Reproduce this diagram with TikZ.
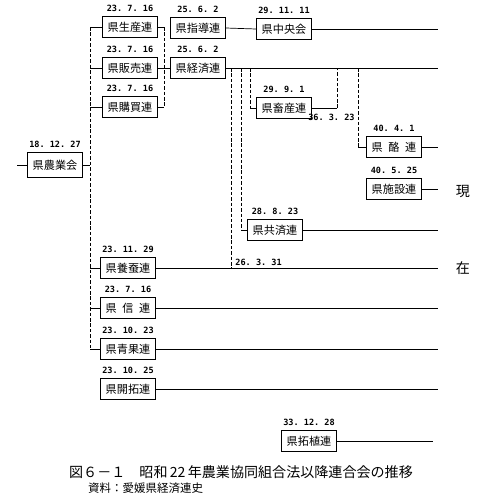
\documentclass[tikz,border=0pt]{standalone}
\usepackage{fontspec}
\setmainfont{Noto Sans CJK JP}
\setmonofont{DejaVu Sans Mono}
\usetikzlibrary{positioning}

\tikzset{
	unit/.style={draw, line width=0.7pt, minimum width=1.65cm, minimum height=0.62cm, inner sep=0pt, font=\fontsize{9.5}{11}\selectfont},
	datum/.style={font=\ttfamily\bfseries\fontsize{7.3}{9}\selectfont, inner sep=1pt},
	link/.style={line width=0.6pt},
	branch/.style={line width=0.6pt, dash pattern=on 3pt off 1.6pt}
}

\begin{document}
\begin{tikzpicture}[x=0.03cm, y=-0.03cm]
			\useasboundingbox (0,0) rectangle (480,498);

			\coordinate (start) at (17,165);
			\coordinate (sp) at (90,0);
			\coordinate (sq) at (164,0);
			\coordinate (b1) at (231,0);
			\coordinate (b2) at (241,0);
			\coordinate (b3) at (250,0);
			\coordinate (b4) at (337,0);
			\coordinate (b5) at (358,0);
			\coordinate (now) at (438,0);
			\coordinate (tend) at (433,441);

			\node[unit, minimum height=0.74cm] (nogyo) at (55,165) {県農業会};
			\node[unit] (seisan) at (130,27) {県生産連};
			\node[unit] (hanbai) at (130,68) {県販売連};
			\node[unit] (kobai) at (130,107) {県購買連};
			\node[unit] (shido) at (198,28) {県指導連};
			\node[unit] (keizai) at (198,68) {県経済連};
			\node[unit] (chuo) at (284,29) {県中央会};
			\node[unit] (chikusan) at (284,108) {県畜産連};
			\node[unit] (rakuren) at (394,147) {県\hspace{0.5em}酪\hspace{0.5em}連};
			\node[unit] (shisetsu) at (394,189) {県施設連};
			\node[unit] (kyosai) at (275,230) {県共済連};
			\node[unit] (yosan) at (128,268) {県養蚕連};
			\node[unit] (shinren) at (128,308) {県\hspace{0.5em}信\hspace{0.5em}連};
			\node[unit] (seika) at (128,349) {県青果連};
			\node[unit] (kaitaku) at (128,389) {県開拓連};
			\node[unit] (takushoku) at (309,441) {県拓植連};

			\foreach \n/\d in {
				nogyo/18. 12. 27,
				seisan/23. 7. 16,
				hanbai/23. 7. 16,
				kobai/23. 7. 16,
				shido/25. 6. 2,
				keizai/25. 6. 2,
				chuo/29. 11. 11,
				chikusan/29. 9. 1,
				rakuren/40. 4. 1,
				shisetsu/40. 5. 25,
				kyosai/28. 8. 23,
				yosan/23. 11. 29,
				shinren/23. 7. 16,
				seika/23. 10. 23,
				kaitaku/23. 10. 25,
				takushoku/33. 12. 28
			}{
				\node[datum, anchor=south] (d-\n) at ([yshift=2.5pt]\n.north) {\d};
			}

			\draw[link] (start) -- (nogyo.west);
			\draw[link] (nogyo.east) -- (nogyo.east -| sp);
			\draw[branch] (seisan.west -| sp) -- (seika.west -| sp);
			\foreach \n in {seisan, hanbai, kobai, yosan, shinren, seika}
				\draw[link] (\n.west -| sp) -- (\n.west);

			\draw[branch] (seisan.east -| sq) -- (kobai.east -| sq);
			\draw[link] (seisan.east) -- (seisan.east -| sq);
			\draw[link] (kobai.east) -- (kobai.east -| sq);
			\draw[link] (hanbai.east) -- (keizai.west);

			\draw[link] (shido.east) -- (chuo.west);
			\foreach \n in {chuo, keizai, rakuren, shisetsu, kyosai, yosan, shinren, seika, kaitaku}
				\draw[link] (\n.east) -- (\n.east -| now);
			\draw[link] (takushoku.east) -- (tend);

			\draw[branch] (keizai.east -| b1) -- (yosan.east -| b1);
			\draw[branch] (keizai.east -| b2) -- (kyosai.west -| b2);
			\draw[link] (kyosai.west -| b2) -- (kyosai.west);
			\draw[branch] (keizai.east -| b3) -- (chikusan.west -| b3);
			\draw[link] (chikusan.west -| b3) -- (chikusan.west);
			\draw[link] (chikusan.east) -- (chikusan.east -| b4);
			\draw[branch] (chikusan.east -| b4) -- (keizai.east -| b4);
			\draw[branch] (keizai.east -| b5) -- (rakuren.west -| b5);
			\draw[link] (rakuren.west -| b5) -- (rakuren.west);

			\node[datum, anchor=west] (end-keizai) at (234,262) {26. 3. 31};
			\node[datum, anchor=east] (end-chikusan) at (356,117) {36. 3. 23};

			\node[font=\fontsize{12}{14}\selectfont] (gen) at (463,192) {現};
			\node[font=\fontsize{12}{14}\selectfont] (zai) at (463,268) {在};

			\node[font=\fontsize{12}{14}\selectfont] (title) at (241,472) {図６－１\hspace{1em}昭和\,22\,年農業協同組合法以降連合会の推移};
			\node[font=\fontsize{9.8}{12}\selectfont, anchor=west, inner sep=0pt] (source) at (88,488) {資料：愛媛県経済連史};
\end{tikzpicture}
\end{document}
